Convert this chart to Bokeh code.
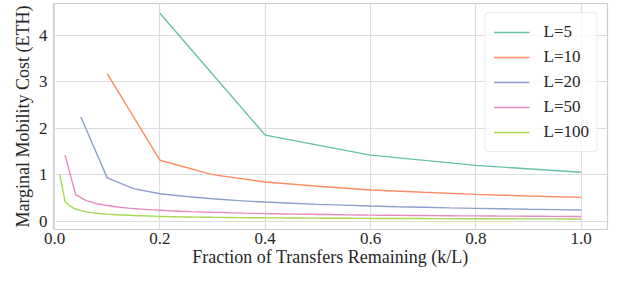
from bokeh.plotting import figure
from bokeh.models import Range1d, FixedTicker, Legend, LegendItem
from bokeh.embed import file_html
from bokeh.resources import INLINE

sizes = [5, 10, 20, 50, 100]
labels = ["L=5", "L=10", "L=20", "L=50", "L=100"]
colors = ["#66c2a5", "#fc8d62", "#8da0cb", "#e78ac3", "#a6d854"]

cost_L5 = [4.47, 1.85, 1.42, 1.20, 1.05]
cost_L10 = [3.17, 1.31, 1.00, 0.84, 0.75, 0.67, 0.62, 0.575, 0.54, 0.51]
cost_L20 = [2.24, 0.93, 0.70, 0.59, 0.53, 0.48, 0.44, 0.41, 0.385, 0.36,
            0.345, 0.325, 0.31, 0.30, 0.285, 0.275, 0.265, 0.255, 0.248, 0.24]
cost_L50 = [1.42, 0.57, 0.44, 0.375, 0.335, 0.305, 0.28, 0.262, 0.247, 0.235,
            0.224, 0.214, 0.205, 0.197, 0.19, 0.184, 0.178, 0.172, 0.167, 0.162,
            0.158, 0.154, 0.150, 0.147, 0.144, 0.141, 0.138, 0.135, 0.133, 0.130,
            0.128, 0.126, 0.124, 0.122, 0.120, 0.118, 0.117, 0.115, 0.114, 0.112,
            0.111, 0.109, 0.108, 0.107, 0.106, 0.104, 0.103, 0.102, 0.101, 0.100]
cost_L100 = [1.00, 0.415, 0.315, 0.26, 0.225, 0.20, 0.183, 0.170, 0.159, 0.150,
             0.143, 0.136, 0.131, 0.126, 0.121, 0.117, 0.113, 0.110, 0.107, 0.101,
             0.099, 0.096, 0.094, 0.092, 0.090, 0.088, 0.087, 0.085, 0.084, 0.082,
             0.081, 0.080, 0.079, 0.077, 0.076, 0.075, 0.074, 0.073, 0.072, 0.071,
             0.070, 0.070, 0.069, 0.068, 0.067, 0.067, 0.066, 0.065, 0.065, 0.064,
             0.063, 0.063, 0.062, 0.062, 0.061, 0.061, 0.060, 0.060, 0.059, 0.059,
             0.058, 0.058, 0.057, 0.057, 0.057, 0.056, 0.056, 0.055, 0.055, 0.055,
             0.054, 0.054, 0.054, 0.053, 0.053, 0.053, 0.052, 0.052, 0.052, 0.051,
             0.051, 0.051, 0.051, 0.050, 0.050, 0.050, 0.050, 0.049, 0.049, 0.049,
             0.049, 0.048, 0.048, 0.048, 0.048, 0.047, 0.047, 0.047, 0.047, 0.047]
costs = [cost_L5, cost_L10, cost_L20, cost_L50, cost_L100]

x_ticks = [0.0, 0.2, 0.4, 0.6, 0.8, 1.0]
x_tick_labels = ["0.0", "0.2", "0.4", "0.6", "0.8", "1.0"]
y_ticks = [0, 1, 2, 3, 4]

FONT = "Liberation Serif"
TXT = "#262626"

p = figure(frame_width=554, frame_height=226, output_backend="svg", toolbar_location=None,
           x_range=Range1d(-0.002, 1.05), y_range=Range1d(-0.18, 4.68),
           min_border_left=53, min_border_right=6, min_border_top=3, min_border_bottom=40)
p.outline_line_color = "#cccccc"
p.outline_line_width = 1.2
p.background_fill_color = "white"

for ax in (p.xaxis[0], p.yaxis[0]):
    ax.axis_line_color = None
    ax.major_tick_line_color = None
    ax.minor_tick_line_color = None
    ax.major_tick_in = 0
    ax.major_tick_out = 0
    ax.minor_tick_in = 0
    ax.minor_tick_out = 0
    ax.major_label_text_font = FONT
    ax.major_label_text_font_size = "17px"
    ax.major_label_text_color = TXT
    ax.axis_label_text_font = FONT
    ax.axis_label_text_font_size = "18px"
    ax.axis_label_text_font_style = "normal"
    ax.axis_label_text_color = TXT

p.xaxis.ticker = FixedTicker(ticks=x_ticks)
p.xaxis.major_label_overrides = {t: s for t, s in zip(x_ticks, x_tick_labels)}
p.yaxis.ticker = FixedTicker(ticks=y_ticks)
p.xaxis.axis_label = "Fraction of Transfers Remaining (k/L)"
p.yaxis.axis_label = "Marginal Mobility Cost (ETH)"
p.xaxis.major_label_standoff = 3
p.yaxis.major_label_standoff = 6
p.xaxis.axis_label_standoff = 0
p.yaxis.axis_label_standoff = 3

p.xgrid.grid_line_color = "#dddddd"
p.ygrid.grid_line_color = "#dddddd"
p.xgrid.grid_line_width = 1.2
p.ygrid.grid_line_width = 1.2

items = []
for L, lab, col, ys in zip(sizes, labels, colors, costs):
    xs = [k / L for k in range(1, L + 1)]
    r = p.line(xs, ys, line_color=col, line_width=1.4)
    items.append(LegendItem(label=lab, renderers=[r]))

legend = Legend(items=items, location="top_right")
legend.label_text_font = FONT
legend.label_text_font_size = "17px"
legend.label_text_color = TXT
legend.glyph_width = 36
legend.glyph_height = 22
legend.label_height = 22
legend.label_standoff = 14
legend.spacing = 3
legend.padding = 8
legend.margin = 9
legend.border_line_color = "#d8d8d8"
legend.border_line_width = 1
legend.border_radius = 4
legend.background_fill_alpha = 0.8
p.add_layout(legend)

open("out.html", "w").write(file_html(p, INLINE))
